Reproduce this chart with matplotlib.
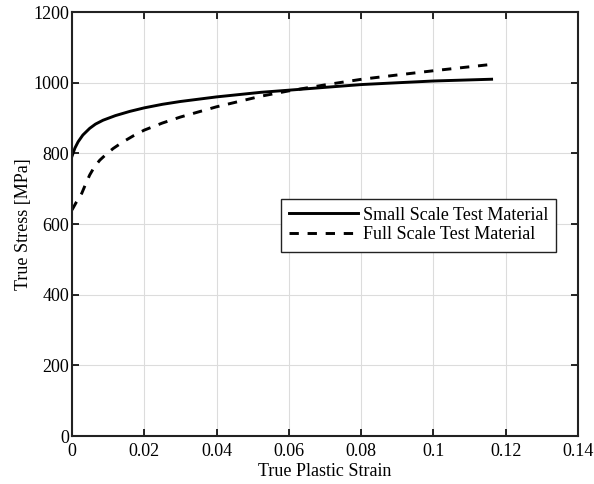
import matplotlib
matplotlib.use("Agg")
import matplotlib.pyplot as plt
import numpy as np

plt.rcParams['font.family'] = ['Liberation Serif', 'DejaVu Serif']

strain_small = [0.0, 0.0008, 0.0017, 0.003, 0.0049, 0.0065, 0.0086, 0.012, 0.016, 0.02, 0.025,
                0.03, 0.04, 0.0523, 0.06, 0.07, 0.0802, 0.09, 0.1, 0.1161]
stress_small = [792, 815, 833, 852, 871, 883, 894, 907, 919, 929, 939,
                947, 960, 973, 979, 987, 995, 1000, 1005, 1010]
strain_full = [0.0, 0.0012, 0.0027, 0.0038, 0.0049, 0.0062, 0.0077, 0.0095, 0.0114, 0.014, 0.017,
               0.02, 0.025, 0.03, 0.04, 0.0523, 0.06, 0.07, 0.0802, 0.09, 0.1, 0.1161]
stress_full = [640, 662, 687, 714, 739, 762, 781, 798, 814, 832, 850,
               866, 886, 903, 932, 962, 977, 994, 1010, 1022, 1034, 1052]

labels = ['Small Scale Test Material', 'Full Scale Test Material']
xticks = [0, 0.02, 0.04, 0.06, 0.08, 0.1, 0.12, 0.14]
xticklabels = ['0', '0.02', '0.04', '0.06', '0.08', '0.1', '0.12', '0.14']
yticks = [0, 200, 400, 600, 800, 1000, 1200]

fig = plt.figure(figsize=(5.94, 4.84), dpi=100)
ax = fig.add_axes([0.1212, 0.099, 0.8518, 0.876])
ax.plot(strain_small, stress_small, 'k-', lw=2.1, label=labels[0])
ax.plot(strain_full, stress_full, 'k--', lw=2.1, dashes=(3.2, 3.0), label=labels[1])
ax.set_xlim(0, 0.14)
ax.set_ylim(0, 1200)
ax.set_xticks(xticks)
ax.set_xticklabels(xticklabels)
ax.set_yticks(yticks)
ax.grid(True, color='#dcdcdc', lw=0.8)
ax.set_axisbelow(True)
for s in ax.spines.values():
    s.set_linewidth(1.5)
    s.set_color('#222222')
ax.tick_params(direction='in', top=True, right=True, length=5, width=1.2, labelsize=13, pad=2)
ax.tick_params(axis='x', pad=5)
ax.set_xlabel('True Plastic Strain', fontsize=13, labelpad=2)
ax.set_ylabel('True Stress [MPa]', fontsize=13, labelpad=1)
leg = ax.legend(loc='center left', bbox_to_anchor=(0.413, 0.4976), fontsize=13, frameon=True,
                fancybox=False, edgecolor='#222222', framealpha=1, borderpad=0.45,
                handlelength=3.8, handletextpad=0.28, labelspacing=0.15, borderaxespad=0)
leg.get_frame().set_linewidth(1.0)
fig.savefig('out.png', dpi=100)
